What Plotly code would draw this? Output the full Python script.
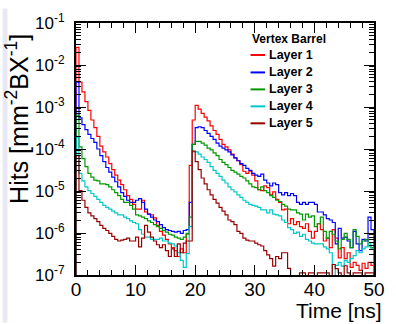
import numpy as np
import plotly.graph_objects as go

# Bin edges: 100 bins of 0.5 ns from 0 to 50 ns
bin_width = 0.5
n_bins = 100

# log10(hits per mm^2 per BX), one value per 0.5 ns bin
layer1_log10 = [
    -1.58, -2.41, -2.64, -2.87, -3.08, -3.31, -3.49, -3.70, -3.93, -4.07,
    -4.19, -4.35, -4.49, -4.62, -4.74, -4.85, -4.97, -5.11, -5.20, -5.32,
    -5.43, -5.43, -5.22, -5.50, -5.55, -5.57, -5.64, -5.82, -5.96, -6.05,
    -6.15, -6.26, -6.35, -6.42, -6.56, -6.38, -6.47, -6.03, -4.39, -3.31,
    -2.96, -3.05, -3.15, -3.24, -3.33, -3.45, -3.56, -3.65, -3.77, -3.89,
    -3.95, -4.02, -4.12, -4.21, -4.28, -4.37, -4.53, -4.58, -4.53, -4.62,
    -4.76, -4.97, -4.99, -4.88, -4.92, -5.09, -5.02, -5.20, -5.27, -5.45,
    -5.43, -5.78, -5.66, -5.80, -5.73, -5.85, -5.89, -5.78, -5.96, -6.12,
    -5.96, -5.78, -5.92, -6.19, -6.12, -6.35, -5.92, -6.12, -6.59, -6.35,
    -6.61, -6.47, -6.82, -6.70, -6.77, -6.89, -6.72, -6.84, -6.70, -6.77,
]
layer2_log10 = [
    -2.41, -3.26, -3.42, -3.54, -3.65, -3.75, -3.84, -4.00, -4.16, -4.30,
    -4.44, -4.55, -4.67, -4.78, -4.90, -5.04, -5.13, -5.22, -5.27, -5.27,
    -5.22, -5.18, -5.27, -5.43, -5.55, -5.62, -5.69, -5.73, -5.80, -5.87,
    -5.92, -5.94, -5.96, -5.98, -5.96, -6.01, -5.94, -5.92, -5.27, -3.89,
    -3.49, -3.47, -3.49, -3.56, -3.63, -3.70, -3.77, -3.86, -3.93, -3.98,
    -4.02, -4.07, -4.14, -4.21, -4.28, -4.35, -4.39, -4.46, -4.51, -4.58,
    -4.62, -4.65, -4.60, -4.74, -4.81, -4.88, -4.81, -4.85, -5.04, -5.09,
    -5.04, -5.11, -5.06, -5.11, -5.27, -5.32, -5.27, -5.32, -5.27, -5.27,
    -5.32, -5.50, -5.50, -5.57, -5.66, -5.69, -5.75, -6.26, -5.89, -6.12,
    -6.10, -6.19, -6.35, -5.96, -6.26, -6.42, -6.15, -6.19, -5.62, -5.92,
]
layer3_log10 = [
    -3.19, -3.95, -4.23, -4.42, -4.58, -4.67, -4.74, -4.76, -4.83, -4.83,
    -4.85, -4.90, -4.97, -5.04, -5.11, -5.20, -5.27, -5.27, -5.34, -5.43,
    -5.57, -5.59, -5.62, -5.66, -5.71, -5.75, -5.80, -5.85, -5.89, -5.94,
    -5.98, -6.03, -6.05, -6.10, -6.12, -6.15, -6.10, -6.01, -5.62, -3.89,
    -3.82, -3.82, -3.86, -3.91, -3.98, -4.02, -4.09, -4.16, -4.25, -4.32,
    -4.37, -4.44, -4.51, -4.55, -4.60, -4.65, -4.69, -4.76, -4.83, -4.90,
    -4.92, -4.97, -4.90, -4.99, -5.04, -5.11, -5.15, -5.22, -5.25, -5.32,
    -5.36, -5.43, -5.45, -5.45, -5.52, -5.55, -5.69, -5.55, -5.62, -5.59,
    -5.85, -5.78, -5.62, -5.96, -6.12, -5.96, -6.03, -6.19, -6.38, -6.15,
    -6.01, -6.15, -6.35, -5.92, -6.08, -6.26, -6.19, -6.15, -6.31, -6.35,
]
layer4_log10 = [
    -3.72, -4.58, -4.76, -4.90, -4.99, -5.06, -5.13, -5.20, -5.27, -5.34,
    -5.39, -5.43, -5.48, -5.52, -5.57, -5.57, -5.62, -5.66, -5.71, -5.75,
    -5.78, -5.92, -6.03, -6.10, -6.10, -6.15, -6.15, -6.15, -6.12, -6.19,
    -6.19, -6.24, -6.26, -6.31, -6.47, -6.65, -6.82, -6.49, -5.85, -4.07,
    -4.07, -4.12, -4.19, -4.25, -4.32, -4.42, -4.51, -4.58, -4.65, -4.74,
    -4.81, -4.90, -4.97, -5.02, -5.09, -5.15, -5.22, -5.27, -5.32, -5.34,
    -5.36, -5.39, -5.45, -5.45, -5.52, -5.45, -5.55, -5.57, -5.59, -5.69,
    -5.75, -5.87, -5.92, -6.01, -5.98, -6.08, -6.03, -6.15, -6.19, -6.24,
    -6.26, -6.26, -6.26, -6.33, -6.38, -6.47, -7.50, -6.77, -6.70, -6.79,
    -6.65, -6.70, -6.61, -6.54, -6.42, -6.47, -6.38, -6.33, -6.26, -6.38,
]
layer5_log10 = [
    -4.16, -4.99, -5.22, -5.39, -5.52, -5.59, -5.66, -5.73, -5.82, -5.89,
    -5.94, -6.01, -6.08, -6.15, -6.19, -6.17, -6.15, -6.12, -6.19, -6.19,
    -6.10, -6.33, -6.12, -5.82, -5.98, -6.10, -6.19, -6.28, -6.35, -6.28,
    -6.42, -6.56, -6.38, -6.56, -6.26, -6.47, -6.24, -6.19, -6.19, -4.05,
    -4.30, -4.49, -4.69, -4.83, -4.97, -5.09, -5.20, -5.29, -5.39, -5.48,
    -5.57, -5.69, -5.73, -5.80, -5.96, -6.01, -6.12, -6.17, -6.19, -6.19,
    -6.24, -6.28, -6.31, -6.42, -6.52, -6.61, -6.79, -6.56, -6.61, -6.47,
    -6.47, -6.84, -7.50, -7.50, -7.50, -6.95, -6.95, -7.50, -6.95, -6.95,
    -7.50, -6.95, -6.95, -6.95, -6.95, -7.50, -6.75, -6.85, -6.95, -7.50,
    -6.78, -6.95, -7.50, -6.95, -6.95, -6.95, -7.50, -6.95, -6.95, -6.95,
]

layer_names = ["Layer 1", "Layer 2", "Layer 3", "Layer 4", "Layer 5"]
layer_series = [layer1_log10, layer2_log10, layer3_log10, layer4_log10, layer5_log10]
layer_colors = ["#ff0000", "#0000ff", "#009900", "#00c8c8", "#990000"]

y_tick_vals = [1e-7, 1e-6, 1e-5, 1e-4, 1e-3, 1e-2, 1e-1]
y_tick_text = ["10<sup>-7</sup>", "10<sup>-6</sup>", "10<sup>-5</sup>", "10<sup>-4</sup>",
               "10<sup>-3</sup>", "10<sup>-2</sup>", "10<sup>-1</sup>"]

FONT = "Liberation Sans, Arial, Helvetica, sans-serif"

# plot area in pixels
W, H = 396, 324
L, R, T, B = 76, 385, 15, 275
def px(xp):
    return (xp - L) / (R - L)
def py(yp):
    return (B - yp) / (B - T)

edges = np.arange(n_bins + 1) * bin_width
floor_val = 1e-9

fig = go.Figure()
for name, logs, col in zip(layer_names, layer_series, layer_colors):
    vals = np.power(10.0, np.array(logs))
    xs = np.concatenate([[edges[0]], edges[:-1], [edges[-1], edges[-1]]])
    ys = np.concatenate([[floor_val], vals, [vals[-1], floor_val]])
    fig.add_trace(go.Scatter(x=xs, y=ys, mode="lines", name=name,
                             line=dict(color=col, width=1.2, shape="hv"),
                             showlegend=False, hoverinfo="skip"))

minor_y = [m * 10.0 ** e for e in range(-7, -1) for m in range(2, 10)]

fig.update_layout(
    width=W, height=H,
    margin=dict(l=L, r=W - R, t=T, b=H - B, pad=0),
    paper_bgcolor="white", plot_bgcolor="white",
    font=dict(family=FONT, color="black"),
    xaxis=dict(range=[0, 50], showgrid=False, zeroline=False,
               showline=True, linecolor="black", linewidth=2, mirror="ticks",
               ticks="inside", ticklen=10, tickwidth=1, tickcolor="black",
               dtick=10, tick0=0, tickfont=dict(size=19, family=FONT),
               ticklabelstandoff=-4,
               minor=dict(ticks="inside", ticklen=5, dtick=2, tickcolor="black",
                          showgrid=False)),
    yaxis=dict(type="log", range=[-7, -1], showgrid=False, zeroline=False,
               showline=True, linecolor="black", linewidth=2, mirror="ticks",
               ticks="inside", ticklen=10, tickwidth=1, tickcolor="black",
               tickmode="array", tickvals=y_tick_vals, ticktext=y_tick_text,
               tickfont=dict(size=17, family=FONT), ticklabelstandoff=6,
               minor=dict(ticks="inside", ticklen=5, tickcolor="black",
                          tickmode="array", tickvals=minor_y, showgrid=False)),
)

shapes = [
    dict(type="rect", xref="paper", yref="paper",
         x0=px(0), x1=px(5), y0=py(H), y1=py(0),
         fillcolor="#e8e8f4", line=dict(width=0), layer="below"),
]
annotations = [
    dict(text="Time [ns]", xref="paper", yref="paper", x=px(395), y=py(312),
         xanchor="right", yanchor="middle", showarrow=False,
         font=dict(size=21, family=FONT, color="black")),
    dict(text="Hits [mm<sup>-2</sup>BX<sup>-1</sup>]", xref="paper", yref="paper",
         x=px(15), y=py(24), xanchor="center", yanchor="top", textangle=-90,
         showarrow=False, font=dict(size=25, family=FONT, color="black")),
    dict(text="<b>Vertex Barrel</b>", xref="paper", yref="paper", x=px(297), y=py(32),
         xanchor="center", yanchor="middle", showarrow=False,
         font=dict(size=12, family=FONT, color="black")),
]
legend_y = [48, 66, 83.5, 101, 118.5]
for name, col, ly in zip(layer_names, layer_colors, legend_y):
    shapes.append(dict(type="line", xref="paper", yref="paper",
                       x0=px(257), x1=px(272), y0=py(ly), y1=py(ly),
                       line=dict(color=col, width=2)))
    annotations.append(dict(text="<b>%s</b>" % name, xref="paper", yref="paper",
                            x=px(274), y=py(ly), xanchor="left", yanchor="middle",
                            showarrow=False,
                            font=dict(size=12.5, family=FONT, color="black")))

fig.update_layout(shapes=shapes, annotations=annotations)
fig.write_html("out.html")
